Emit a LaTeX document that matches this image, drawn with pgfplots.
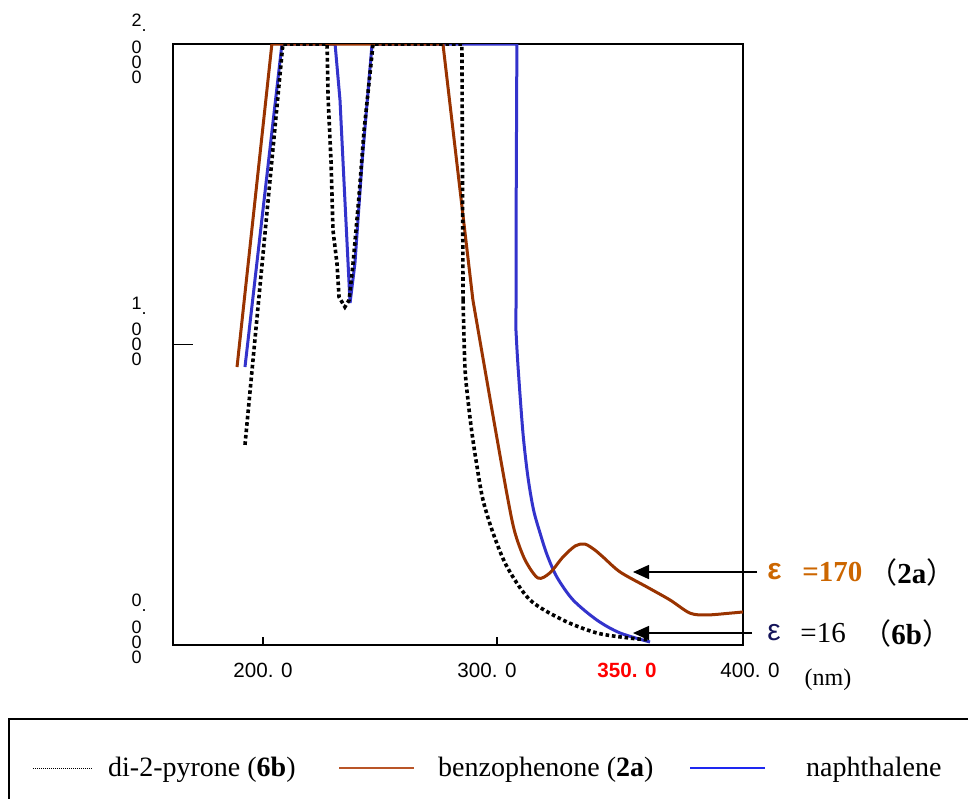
\documentclass[border=0pt]{standalone}
\usepackage{pgfplots}
\pgfplotsset{compat=1.18}
\usepackage{fontspec}
\setmainfont{Liberation Serif}
\newfontfamily\arial{Liberation Sans}
\newfontfamily\cjk{Noto Sans CJK JP}
\usetikzlibrary{arrows.meta}

\definecolor{bpbrown}{RGB}{153,51,0}
\definecolor{nablue}{RGB}{51,51,204}
\definecolor{legbrown}{RGB}{185,85,40}
\definecolor{legblue}{RGB}{30,40,240}
\definecolor{epsorange}{RGB}{204,102,0}
\definecolor{epsnavy}{RGB}{20,20,90}

% stacked y tick label: digit, dot, then three zeros
\newcommand{\ylab}[3]{\vbox{\vskip#2\relax\baselineskip=7.6pt\lineskiplimit=-20pt
  \hbox{#1\rlap{\raisebox{-2.5pt}{.}}}\vskip5.5pt\hbox{0}\hbox{0}\hbox{0}\vskip#3\relax}}

\pgfplotsset{
  naph/.style={forget plot, nablue, line width=1.5pt},
  benz/.style={forget plot, bpbrown, line width=1.5pt},
  pyro/.style={forget plot, black, line width=1.8pt, dash pattern=on 1.8pt off 1.4pt},
}

\begin{document}
\begin{tikzpicture}
\begin{axis}[
  at={(86.5pt,-322.5pt)}, anchor=south west,
  scale only axis, width=285pt, height=300.5pt,
  xmin=161.54, xmax=405.13, ymin=0, ymax=2,
  axis line style={line width=0.9pt},
  tick pos=left, tick align=inside,
  tick style={black, line width=0.9pt},
  major tick length=4pt,
  xtick={200,300},
  xticklabels={{200. 0},{300. 0\kern10pt}},
  extra x ticks={350,400},
  extra x tick labels={{\kern13pt\color{red}\bfseries 350. 0},{\kern19pt 400. 0}},
  extra x tick style={major tick length=0pt},
  xticklabel style={font=\arial\fontsize{10.3}{12}\selectfont, anchor=north, inner sep=0pt, yshift=-9pt},
  ytick={0,2},
  yticklabels={\ylab{0}{0pt}{16pt},\ylab{2}{5pt}{0pt}},
  extra y ticks={1},
  extra y tick labels={\ylab{1}{0pt}{13pt}},
  extra y tick style={major tick length=10pt},
  yticklabel style={font=\arial\fontsize{9}{11}\selectfont, anchor=east, inner sep=0pt, xshift=-15.5pt},
  legend columns=3,
  legend style={at={(-0.2474,-0.2047)}, anchor=west, draw=none, fill=none,
    inner sep=0pt, column sep=0pt, font=\fontsize{14}{16}\selectfont,
    nodes={inner sep=0pt}},
  legend cell align=left,
]
\addlegendimage{legend image code/.code={\draw[black, line width=0.4pt, dash pattern=on 0.4pt off 0.6pt] (0pt,0pt) -- (29.5pt,0pt);}}
\addlegendentry{\kern8pt di-2-pyrone (\textbf{6b})\kern21.5pt}
\addlegendimage{legend image code/.code={\draw[legbrown, line width=0.8pt] (0pt,0pt) -- (37.5pt,0pt);}}
\addlegendentry{\kern11.5pt benzophenone (\textbf{2a})\kern18pt}
\addlegendimage{legend image code/.code={\draw[legblue, line width=0.8pt] (0pt,0pt) -- (37.5pt,0pt);}}
\addlegendentry{\kern20pt naphthalene}

% naphthalene
\addplot[naph] coordinates {
(192.3,0.925) (208.1,2.0) (230.8,2.0) (232.9,1.814) (235.0,1.481) (237.2,1.138)
(239.3,1.271) (242.3,1.604) (245.3,1.880) (246.6,2.0) (308.5,2.0) (308.2,1.481)
(308.1,1.048)};
\addplot[naph, smooth, tension=0.5] coordinates {
(308.1,1.048) (309.0,0.925) (311.1,0.705) (313.2,0.560) (315.6,0.450) (318.5,0.370)
(321.4,0.300) (325.6,0.226) (332.5,0.150) (342.7,0.083) (352.6,0.040) (365.4,0.010)};

% benzophenone
\addplot[benz] coordinates {
(188.9,0.925) (203.8,2.0) (276.9,2.0) (289.7,1.148)};
\addplot[benz, smooth, tension=0.5] coordinates {
(289.7,1.148) (294.6,0.928) (299.6,0.705) (304.7,0.483) (307.7,0.373) (312.0,0.283)
(317.5,0.223) (322.6,0.240) (328.2,0.293) (333.5,0.330) (337.5,0.336)
(341.5,0.318) (345.3,0.293) (352.6,0.243) (364.1,0.193) (373.9,0.150) (382.5,0.106)
(389.7,0.100) (399.6,0.106) (405.1,0.110)};

% di-2-pyrone
\addplot[pyro] coordinates {
(192.3,0.666) (208.5,2.0) (227.4,2.0) (227.8,1.824) (229.1,1.604) (229.9,1.381)
(231.6,1.271) (232.5,1.158) (235.0,1.125) (236.8,1.148) (238.5,1.271) (241.0,1.491)
(243.2,1.714) (246.2,1.937) (247.0,2.0) (285.0,2.0) (285.5,1.148)};
\addplot[pyro, smooth, tension=0.5] coordinates {
(285.5,1.148) (286.3,0.925) (287.6,0.815) (289.3,0.705) (291.5,0.592) (294.0,0.483)
(298.3,0.373) (304.3,0.260) (314.1,0.150) (328.2,0.083) (342.7,0.040) (356.8,0.023)
(365.4,0.017)};
\end{axis}

% annotations
\draw[line width=0.8pt, -{Triangle[length=8pt,width=7pt]}] (378.5pt,-286pt) -- (316.5pt,-286pt);
\draw[line width=0.8pt, -{Triangle[length=8pt,width=7pt]}] (376pt,-316.5pt) -- (316.5pt,-316.5pt);
\node[anchor=west, inner sep=0pt, text=epsorange, font=\arial\bfseries\fontsize{15}{17}\selectfont] at (383.5pt,-286pt) {ε};
\node[anchor=west, inner sep=0pt, text=epsorange, font=\bfseries\fontsize{14.5}{17}\selectfont] at (401pt,-286pt) {=170};
\node[anchor=west, inner sep=0pt, font=\fontsize{14.5}{17}\selectfont] at (434pt,-286pt) {{\cjk （}\textbf{2a}{\cjk ）}};
\node[anchor=west, inner sep=0pt, text=epsnavy, font=\arial\fontsize{15}{17}\selectfont] at (383.5pt,-316.5pt) {ε};
\node[anchor=west, inner sep=0pt, font=\fontsize{14.5}{17}\selectfont] at (400pt,-316.5pt) {=16};
\node[anchor=west, inner sep=0pt, font=\fontsize{14.5}{17}\selectfont] at (431pt,-316.5pt) {{\cjk （}\textbf{6b}{\cjk ）}};
\node[inner sep=0pt, font=\fontsize{12}{14}\selectfont] at (414pt,-340pt) {(nm)};

% legend frame, cut by the page edge
\draw[line width=1pt] (4.5pt,-420pt) -- (4.5pt,-359.5pt) -- (500pt,-359.5pt);

\pgfresetboundingbox
\useasboundingbox (0pt,0pt) rectangle (484pt,-399pt);
\end{tikzpicture}
\end{document}
